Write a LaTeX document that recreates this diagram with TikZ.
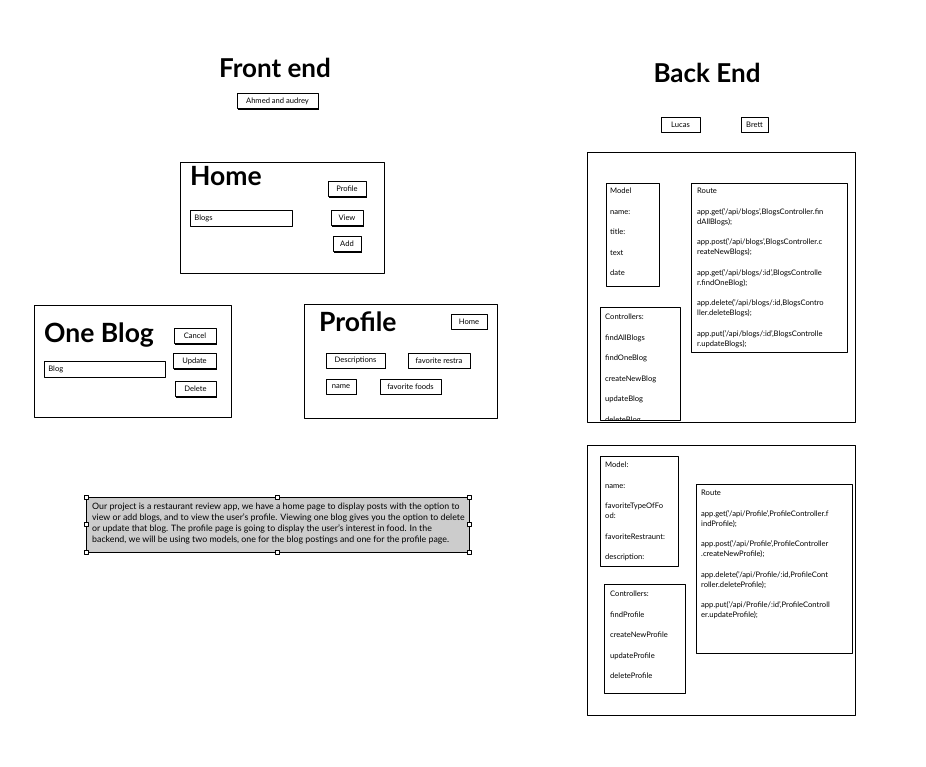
\documentclass[tikz,border=0pt]{standalone}
\usepackage{fontspec}
\setmainfont{Lato}
\usetikzlibrary{shadows}
\newcommand{\smallfont}{\fontsize{7.6}{10}\selectfont}
\tikzset{
  frame/.style={draw, line width=1pt, inner sep=0pt, anchor=north west}, % Rahmen
  btn/.style={draw, fill=white, line width=0.8pt, inner sep=1pt, font=\smallfont,
    minimum height=15pt,
    drop shadow={shadow xshift=1.2pt, shadow yshift=-1.2pt, fill=black, opacity=1}}, % Knopf
  field/.style={draw, line width=0.8pt, anchor=north west, inner xsep=4pt,
    minimum height=16pt, font=\smallfont, align=left}, % Eingabefeld
  txt/.style={anchor=north west, inner sep=0pt, font=\smallfont, align=left},
  ttl/.style={anchor=west, inner sep=0pt, font=\fontsize{26.5}{30}\selectfont\bfseries},
  handle/.style={draw, fill=white, line width=0.5pt, minimum size=4pt, inner sep=0pt}
}
\begin{document}
\begin{tikzpicture}[x=1pt, y=-1pt, line join=round]
\useasboundingbox (0,0) rectangle (926,766);

%Ueberschriften
\node[font=\fontsize{26}{30}\selectfont\bfseries] (front) at (275,68) {Front end};
\node[font=\fontsize{26}{30}\selectfont\bfseries] (back) at (707,73) {Back End};
\node[btn, drop shadow={opacity=0}, minimum width=81pt] (fteam) at (277.5,101) {Ahmed and audrey};
\node[btn, drop shadow={opacity=0}, minimum width=39pt] (lucas) at (680.5,124.5) {Lucas};
\node[btn, drop shadow={opacity=0}, minimum width=27pt] (brett) at (754.5,124.5) {Brett};

%Home
\node[frame, minimum width=204pt, minimum height=111pt] (home) at (180,162) {};
\node[ttl] (hometitle) at (190,176) {Home};
\node[btn, minimum width=38pt] (homeprofile) at (347,189) {Profile};
\node[field, text width=94pt] (blogs) at (190,210) {Blogs};
\node[btn, minimum width=32pt] (view) at (347,218) {View};
\node[btn, minimum width=28pt] (add) at (347,244) {Add};

%One Blog
\node[frame, minimum width=197pt, minimum height=112pt] (oneblog) at (34,305) {};
\node[ttl] (oneblogtitle) at (44,335) {One Blog};
\node[btn, minimum width=42pt] (cancel) at (195,336) {Cancel};
\node[btn, minimum width=43pt] (update) at (194.5,361) {Update};
\node[btn, minimum width=41pt] (delete) at (195.5,389) {Delete};
\node[field, text width=113pt] (blog) at (44,361) {Blog};

%Profile
\node[frame, minimum width=193pt, minimum height=114pt] (profile) at (304,304) {};
\node[ttl] (profiletitle) at (319,322) {Profile};
\node[btn, minimum width=36pt] (profilehome) at (469,321.5) {Home};
\node[btn, drop shadow={opacity=0}, minimum width=59pt] (descr) at (355.5,360.5) {Descriptions};
\node[btn, drop shadow={opacity=0}, minimum width=62pt] (favrest) at (439,360.5) {favorite restra};
\node[btn, drop shadow={opacity=0}, minimum width=30pt] (pname) at (341,386.5) {name};
\node[btn, drop shadow={opacity=0}, minimum width=61pt] (favfood) at (410.5,386.5) {favorite foods};

%Beschreibung
\node[frame, fill=black!20, minimum width=383pt, minimum height=55pt] (summary) at (86,497) {};
\node[txt, font=\fontsize{8.8}{11}\selectfont] (summarytext) at (92,503)
  {Our project is a restaurant review app, we have a home page to display posts with the option to\\
   view or add blogs, and to view the user's profile. Viewing one blog gives you the option to delete\\
   or update that blog. The profile page is going to display the user's interest in food. In the\\
   backend, we will be using two models, one for the blog postings and one for the profile page.};
\foreach \hx/\hy in {86/497, 277.5/497, 469/497, 86/524.5, 469/524.5, 86/552, 277.5/552, 469/552}
  \node[handle] at (\hx,\hy) {};

%Backend Blogs
\node[frame, minimum width=268pt, minimum height=270pt] (blogback) at (587,152) {};
\node[frame, line width=0.9pt, minimum width=53pt, minimum height=103pt] (blogmodel) at (606,183) {};
\node[txt] (blogmodeltext) at (610,188)
  {Model\\[10.5pt] name:\\[10.5pt] title:\\[10.5pt] text\\[10.5pt] date};
\node[frame, line width=0.9pt, minimum width=156pt, minimum height=169pt] (blogroute) at (691,183) {};
\node[txt] (blogroutetext) at (697,188)
  {Route\\[10.5pt]
   app.get('/api/blogs',BlogsController.fin\\ dAllBlogs);\\[10.5pt]
   app.post('/api/blogs',BlogsController.c\\ reateNewBlogs);\\[10.5pt]
   app.get('/api/blogs/:id',BlogsControlle\\ r.findOneBlog);\\[10.5pt]
   app.delete('/api/blogs/:id,BlogsContro\\ ller.deleteBlogs);\\[10.5pt]
   app.put('/api/blogs/:id',BlogsControlle\\ r.updateBlogs);};
\node[frame, line width=0.9pt, minimum width=80pt, minimum height=113pt] (blogctrl) at (600,307) {};
\begin{scope}
\clip (600,307) rectangle (680,419);
\node[txt] (blogctrltext) at (605,314)
  {Controllers:\\[10.5pt] findAllBlogs\\[10.5pt] findOneBlog\\[10.5pt] createNewBlog\\[10.5pt]
   updateBlog\\[10.5pt] deleteBlog};
\end{scope}

%Backend Profile
\node[frame, minimum width=268pt, minimum height=270pt] (profback) at (587,445) {};
\node[frame, line width=0.9pt, minimum width=78pt, minimum height=110pt] (profmodel) at (600,456) {};
\node[txt] (profmodeltext) at (605,462)
  {Model:\\[10.5pt] name:\\[10.5pt] favoriteTypeOfFo\\ od:\\[10.5pt] favoriteRestraunt:\\[10.5pt] description:};
\node[frame, line width=0.9pt, minimum width=156pt, minimum height=169pt] (profroute) at (696,484) {};
\node[txt] (profroutetext) at (701,490)
  {Route\\[10.5pt]
   app.get('/api/Profile',ProfileController.f\\ indProfile);\\[10.5pt]
   app.post('/api/Profile',ProfileController\\ .createNewProfile);\\[10.5pt]
   app.delete('/api/Profile/:id,ProfileCont\\ roller.deleteProfile);\\[10.5pt]
   app.put('/api/Profile/:id',ProfileControll\\ er.updateProfile);};
\node[frame, line width=0.9pt, minimum width=81pt, minimum height=109pt] (profctrl) at (604,584) {};
\node[txt] (profctrltext) at (610,591)
  {Controllers:\\[10.5pt] findProfile\\[10.5pt] createNewProfile\\[10.5pt] updateProfile\\[10.5pt] deleteProfile};

\end{tikzpicture}
\end{document}
